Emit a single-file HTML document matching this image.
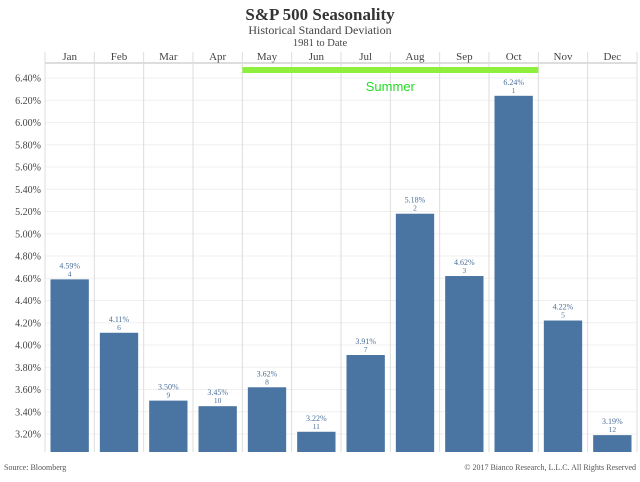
<!DOCTYPE html>
<html><head><meta charset="utf-8"><style>
body{margin:0;background:#fff;width:640px;height:477px;overflow:hidden;font-family:"Liberation Serif",serif}
</style></head><body>
<svg width="640" height="477" id="c">
<text x="320" y="20" text-anchor="middle" font-size="17" font-weight="bold" fill="#333">S&amp;P 500 Seasonality</text>
<text x="320" y="34" text-anchor="middle" font-size="12" fill="#444">Historical Standard Deviation</text>
<text x="320" y="46" text-anchor="middle" font-size="10.5" fill="#444">1981 to Date</text>
<text x="4" y="470" font-size="8" fill="#555">Source: Bloomberg</text>
<text x="636" y="470" text-anchor="end" font-size="8" fill="#555">© 2017 Bianco Research, L.L.C. All Rights Reserved</text>
</svg>
<script>
const months=["Jan","Feb","Mar","Apr","May","Jun","Jul","Aug","Sep","Oct","Nov","Dec"];
const values=[4.59,4.11,3.50,3.45,3.62,3.22,3.91,5.18,4.62,6.24,4.22,3.19];
const ranks=[4,6,9,10,8,11,7,2,3,1,5,12];
const yTicks=[3.2,3.4,3.6,3.8,4.0,4.2,4.4,4.6,4.8,5.0,5.2,5.4,5.6,5.8,6.0,6.2,6.4];
const summer=["May","Oct"];
const NS="http://www.w3.org/2000/svg",svg=document.getElementById('c');
const L=45,R=637,T=52,B=452,cw=(R-L)/12;
const y=v=>78+(6.4-v)/0.2*22.25;
const x=i=>L+i*cw;
function mk(t,a,txt){const e=document.createElementNS(NS,t);for(const k in a)e.setAttribute(k,a[k]);if(txt!=null)e.textContent=txt;svg.appendChild(e);return e;}
yTicks.forEach(v=>{
 const g=mk('line',{x1:L,x2:R,y1:y(v),y2:y(v),stroke:'#f0f0f0'});
 
 
 const t=mk('text',{x:41,y:y(v)+3.5,'text-anchor':'end','font-size':'10',fill:'#444'},v.toFixed(2)+'%');
 
 
});
mk('line',{x1:L,x2:R,y1:63,y2:63,stroke:'#ddd','stroke-width':2});
for(let i=0;i<=12;i++){const l=mk('line',{x1:x(i),x2:x(i),y1:T,y2:B,stroke:'#ddd'});
 
 }
const s0=months.indexOf(summer[0]),s1=months.indexOf(summer[1]);
const sb=mk('rect',{x:x(s0),y:67,width:x(s1+1)-x(s0),height:6,fill:'#8ef03c'});


const st=mk('text',{x:(x(s0)+x(s1+1))/2,y:91,'text-anchor':'middle','font-size':'13',fill:'#22dd22','font-family':'Liberation Sans, sans-serif'},'Summer');


months.forEach((m,i)=>{
 const h=mk('text',{x:x(i)+cw/2,y:60,'text-anchor':'middle','font-size':'11',fill:'#444'},m);
 
 
 const by=y(values[i]);
 const b=mk('rect',{x:x(i)+5.5,y:by,width:cw-11,height:B-by,fill:'#4a75a2'});
 
 
 const v=mk('text',{x:x(i)+cw/2,y:by-11,'text-anchor':'middle','font-size':'8',fill:'#4a6f9a'},values[i].toFixed(2)+'%');
 
 
 const r=mk('text',{x:x(i)+cw/2,y:by-3,'text-anchor':'middle','font-size':'7.5',fill:'#4a6f9a'},ranks[i]);
 
 
});
</script>
</body></html>
